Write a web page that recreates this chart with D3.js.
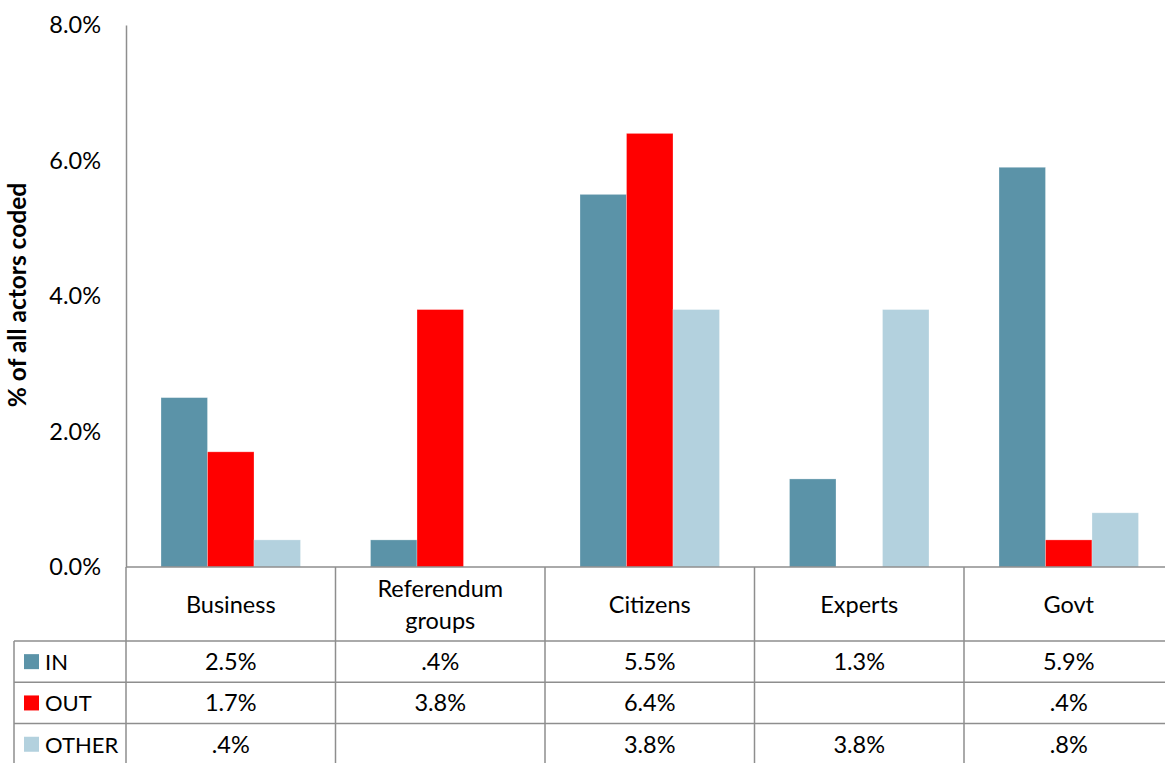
<!DOCTYPE html>
<html>
<head>
<meta charset="utf-8">
<script src="https://cdn.jsdelivr.net/npm/d3@7"></script>
<style>
  html, body { margin: 0; padding: 0; background: #fff; }
  svg { display: block; font-family: Lato, "Open Sans", sans-serif; }
</style>
</head>
<body>
<svg id="chart" width="1165" height="763"></svg>
<script>
// Actor categories and share of all coded actors (%) per campaign side
const categories = ["Business", "Referendum groups", "Citizens", "Experts", "Govt"];
const seriesNames = ["IN", "OUT", "OTHER"];
const inValues = [2.5, 0.4, 5.5, 1.3, 5.9];
const outValues = [1.7, 3.8, 6.4, null, 0.4];
const otherValues = [0.4, null, 3.8, 3.8, 0.8];
const tableLabels = {
  IN: ["2.5%", ".4%", "5.5%", "1.3%", "5.9%"],
  OUT: ["1.7%", "3.8%", "6.4%", "", ".4%"],
  OTHER: [".4%", "", "3.8%", "3.8%", ".8%"]
};
const yTicks = [0, 2, 4, 6, 8];
const colors = { IN: "#5b93a8", OUT: "#ff0000", OTHER: "#b3d1de" };

const series = { IN: inValues, OUT: outValues, OTHER: otherValues };

const svg = d3.select("#chart");
const gridColor = "#8e8e8e";
const fontSize = 23.5;

const plotLeft = 126, plotTop = 25, plotBottom = 567;
const catWidth = 209.5;
const tableLeft = 14;
const headerBottom = 641;
const rowH = 41.3;

const x0 = d3.scaleBand()
  .domain(categories)
  .range([plotLeft, plotLeft + catWidth * categories.length])
  .paddingInner(0).paddingOuter(0);

const gapFrac = 35 / 209.5;
const x1 = d3.scaleBand()
  .domain(seriesNames)
  .range([x0.bandwidth() * gapFrac, x0.bandwidth() * (1 - gapFrac)])
  .padding(0);

const y = d3.scaleLinear().domain([0, 8]).range([plotBottom, plotTop]);

// Bars
const barData = [];
categories.forEach((c, i) => {
  seriesNames.forEach(s => {
    const v = series[s][i];
    if (v != null) barData.push({ cat: c, s, v });
  });
});

svg.append("g").selectAll("rect")
  .data(barData)
  .join("rect")
  .attr("x", d => x0(d.cat) + x1(d.s))
  .attr("y", d => y(d.v))
  .attr("width", x1.bandwidth())
  .attr("height", d => y(0) - y(d.v))
  .attr("fill", d => colors[d.s])
  .attr("stroke", "rgba(255,255,255,0.35)")
  .attr("stroke-width", 0.8);

// Y axis
const yAxis = svg.append("g")
  .attr("transform", `translate(${plotLeft},0)`)
  .call(d3.axisLeft(y).tickValues(yTicks).tickSize(0).tickPadding(25)
    .tickFormat(d => d3.format(".1f")(d) + "%"));
yAxis.select(".domain").attr("stroke", gridColor).attr("stroke-width", 1.5);
yAxis.selectAll("text")
  .attr("font-family", "Lato, 'Open Sans', sans-serif")
  .attr("font-size", fontSize).attr("fill", "#000");

// Y axis title
svg.append("text")
  .attr("transform", `translate(26,295) rotate(-90)`)
  .attr("text-anchor", "middle")
  .attr("font-size", 24.5)
  .attr("font-weight", "bold")
  .text("% of all actors coded");

// Data table grid
const tableRight = x0.range()[1];
const g = svg.append("g").attr("stroke", gridColor).attr("stroke-width", 1.5).attr("fill", "none");
// category axis line / header top
g.append("line").attr("x1", plotLeft).attr("x2", tableRight).attr("y1", plotBottom).attr("y2", plotBottom);
// row lines
[0, 1, 2, 3].forEach(r => {
  g.append("line").attr("x1", tableLeft).attr("x2", tableRight)
    .attr("y1", headerBottom + r * rowH).attr("y2", headerBottom + r * rowH);
});
// vertical lines
categories.forEach((c, i) => {
  g.append("line").attr("x1", x0(c)).attr("x2", x0(c))
    .attr("y1", plotBottom).attr("y2", 763);
});
g.append("line").attr("x1", tableRight).attr("x2", tableRight).attr("y1", plotBottom).attr("y2", 763);
g.append("line").attr("x1", tableLeft).attr("x2", tableLeft).attr("y1", headerBottom).attr("y2", 763);

// Category headers
categories.forEach(c => {
  const cx = x0(c) + x0.bandwidth() / 2;
  const words = c === "Referendum groups" ? ["Referendum", "groups"] : [c];
  const t = svg.append("text").attr("text-anchor", "middle").attr("font-size", fontSize).attr("fill", "#000");
  if (words.length === 1) {
    t.append("tspan").attr("x", cx).attr("y", 613).text(words[0]);
  } else {
    t.append("tspan").attr("x", cx).attr("y", 597).text(words[0]);
    t.append("tspan").attr("x", cx).attr("y", 629).text(words[1]);
  }
});

// Table rows with legend keys
seriesNames.forEach((s, r) => {
  const top = headerBottom + r * rowH;
  const mid = top + rowH / 2;
  svg.append("rect").attr("x", 24).attr("y", mid - 7.5).attr("width", 15).attr("height", 15).attr("fill", colors[s]);
  svg.append("text").attr("x", 45).attr("y", mid + 8.5).attr("font-size", 22).text(s);
  categories.forEach((c, i) => {
    svg.append("text")
      .attr("x", x0(c) + x0.bandwidth() / 2)
      .attr("y", mid + 8.5)
      .attr("text-anchor", "middle")
      .attr("font-size", fontSize)
      .text(tableLabels[s][i]);
  });
});
</script>
</body>
</html>
